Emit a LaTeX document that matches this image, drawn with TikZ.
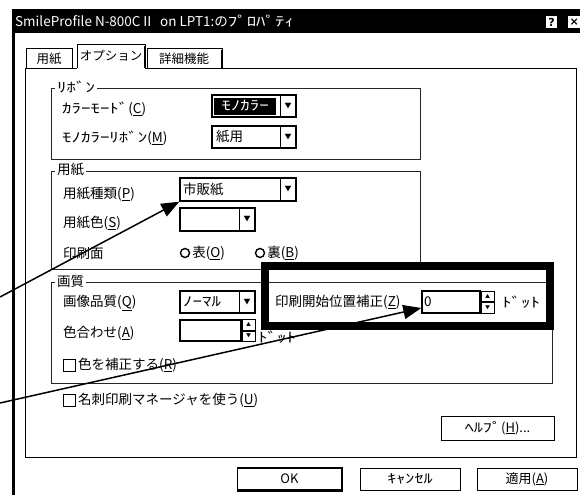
\documentclass[tikz,border=0pt]{standalone}
\usepackage{fontspec}
\newfontfamily\jp{Noto Sans CJK JP}
\newfontfamily\jphalf{Noto Sans CJK JP}[FakeStretch=1.4]
\newfontfamily\capfont{DejaVu Sans}
\newcommand{\hankaku}[1]{{\jphalf #1}}
\usetikzlibrary{arrows.meta,positioning,calc}

\tikzset{
  txt/.style={anchor=west, inner sep=0pt, font=\jp\fontsize{13.5}{13.5}\selectfont},
  tabtxt/.style={txt, anchor=center, font=\jp\fontsize{12.5}{12.5}\selectfont},
  grp/.style={draw=black!85, line width=0.9pt},
  grplbl/.style={txt, fill=white, inner xsep=2pt},
  field/.style={draw, line width=1.4pt, fill=white, inner sep=0pt, minimum width=#1},
  ddbtn/.style={draw, line width=1pt, inner sep=0pt, minimum width=16pt, anchor=east, font=\jp\fontsize{7}{7}\selectfont},
  spin/.style={draw, line width=1pt, inner sep=0pt, minimum width=13pt, minimum height=10.5pt, font=\jp\fontsize{5}{5}\selectfont},
  radio/.style={circle, draw, line width=1.4pt, minimum size=9pt, inner sep=0pt},
  chk/.style={draw, line width=1pt, minimum size=12pt, inner sep=0pt},
  btn/.style={draw, line width=1pt, minimum height=22pt, inner sep=0pt, font=\jp\fontsize{13}{13}\selectfont},
  capbtn/.style={fill=white, minimum width=11pt, minimum height=12pt, inner sep=0pt, font=\capfont\bfseries\fontsize{11}{11}\selectfont},
  hilite/.style={draw, line width=8pt, inner sep=0pt},
  callout/.style={line width=1.5pt, -{Triangle[length=18pt,width=14pt]}}
}

\begin{document}
\begin{tikzpicture}[x=1pt, y=-1pt]
    \useasboundingbox (0,0) rectangle (580,495);

    % Title bar
    \fill[black] (12,9) rectangle (580,33);
    \node[txt, text=white] (title) at (15,21) {SmileProfile N-800CⅡ\ \ on LPT1:の\hankaku{ﾌﾟﾛﾊﾟﾃｨ}};
    \node[capbtn] (qbtn) at (551.5,22) {?};
    \node[capbtn, minimum width=12pt, anchor=west] (xbtn) at (568,22) {×};
    \draw[line width=3pt] (13.5,33) -- (13.5,495);

    % Tabs and sheet
    \draw[line width=1pt] (26,68) -- (26,49) -- (72,49) -- (72,68);
    \draw[line width=1pt] (77,68) -- (77,45) -- (145,45) -- (145,68);
    \draw[line width=1pt] (147,68) -- (147,49) -- (222,49) -- (222,68);
    \draw[line width=1.8pt] (145,46) -- (145,68) (222,50) -- (222,68);
    \node[tabtxt] (tpaper) at (49,59) {用紙};
    \node[tabtxt] (topt) at (111,56) {オプション};
    \node[tabtxt] (tmore) at (184,59) {詳細機能};
    \draw[line width=1pt] (77,68) -- (25,68) -- (25,457) -- (576,457) -- (576,68) -- (145,68);

    % Group boxes
    \draw[grp] (51,88) rectangle (420,159);
    \draw[grp] (51,171) rectangle (420,269);
    \draw[grp] (51,282) rectangle (552,383);
    \node[grplbl] (gribbon) at (55,87) {\hankaku{ﾘﾎﾞﾝ}};
    \node[grplbl] (gpaper) at (55,170) {用紙};
    \node[grplbl] (gquality) at (55,281) {画質};

    % Ribbon
    \node[txt] (lcmode) at (62,109) {\hankaku{ｶﾗｰﾓｰﾄﾞ}(\underline{C})};
    \node[txt] (lribbon) at (62,138) {\hankaku{ﾓﾉｶﾗｰﾘﾎﾞﾝ}(\underline{M})};
    \node[field=84pt, minimum height=22pt] (cmode) at (254,106) {};
    \node[txt, fill=black, text=white, minimum height=17pt, minimum width=62pt, inner xsep=2pt] (cmodesel) at (214,106) {\hankaku{ﾓﾉｶﾗｰ}};
    \node[ddbtn, minimum height=22pt] (cmodedd) at (cmode.east) {▼};
    \node[field=84pt, minimum height=22pt] (rtype) at (254,137) {};
    \node[txt] (rtypetxt) at (216,137) {紙用};
    \node[ddbtn, minimum height=22pt] (rtypedd) at (rtype.east) {▼};

    % Paper
    \node[txt] (lptype) at (63,194) {用紙種類(\underline{P})};
    \node[txt] (lpcolor) at (63,223) {用紙色(\underline{S})};
    \node[txt] (lside) at (63,253) {印刷面};
    \node[field=116pt, minimum height=23pt] (ptype) at (238,189.5) {};
    \node[txt] (ptypetxt) at (183,189.5) {市販紙};
    \node[ddbtn, minimum height=23pt] (ptypedd) at (ptype.east) {▼};
    \node[field=75pt, minimum height=23pt] (pcolor) at (217.5,219.5) {};
    \node[ddbtn, minimum height=23pt] (pcolordd) at (pcolor.east) {▼};
    \node[radio] (rfront) at (185,253) {};
    \node[txt, right=2pt of rfront] (lfront) {表(\underline{O})};
    \node[radio] (rback) at (260,253) {};
    \node[txt, right=2pt of rback] (lback) {裏(\underline{B})};

    % Quality
    \node[txt] (lqual) at (63,303) {画像品質(\underline{Q})};
    \node[txt] (lmatch) at (63,333) {色合わせ(\underline{A})};
    \node[field=75pt, minimum height=22pt] (qual) at (217.5,302) {};
    \node[txt] (qualtxt) at (183,302) {\hankaku{ﾉｰﾏﾙ}};
    \node[ddbtn, minimum height=22pt] (qualdd) at (qual.east) {▼};
    \node[field=61pt, minimum height=21pt] (match) at (210.5,330.5) {};
    \node[spin, anchor=south west] (matchup) at (match.east) {▲};
    \node[spin, anchor=north west] (matchdn) at (match.east) {▼};
    \node[txt] (matchunit) at (258,337) {\hankaku{ﾄﾞｯﾄ}};
    \node[chk] (chkfix) at (69.5,365) {};
    \node[txt, right=2pt of chkfix] (lfix) {色を補正する(\underline{R})};

    % Print start offset
    \node[txt] (loffs) at (275,302) {印刷開始位置補正(\underline{Z})};
    \node[field=58pt, minimum height=22pt] (offs) at (451,302) {};
    \node[txt] (offstxt) at (424,302) {0};
    \node[spin, anchor=south west] (offsup) at (offs.east) {▲};
    \node[spin, anchor=north west] (offsdn) at (offs.east) {▼};
    \node[txt] (offsunit) at (502,302) {\hankaku{ﾄﾞｯﾄ}};
    \node[hilite, minimum width=285pt, minimum height=60pt] (focus) at (407.5,296) {};

    % Card manager, buttons
    \node[chk] (chkcard) at (69.5,400) {};
    \node[txt, right=2pt of chkcard] (lcard) {名刺印刷マネージャを使う(\underline{U})};
    \node[btn, minimum width=113pt, minimum height=24pt] (help) at (497.5,428) {\hankaku{ﾍﾙﾌﾟ}(\underline{H})...};
    \node[btn, minimum width=104pt, line width=1.6pt] (ok) at (289.5,479) {OK};
    \node[btn, minimum width=100pt] (cancel) at (410,479) {\hankaku{ｷｬﾝｾﾙ}};
    \node[btn, minimum width=100pt] (apply) at (527,479) {適用(\underline{A})};
    \foreach \b in {help,ok,cancel,apply} {
        \draw[line width=1.8pt] (\b.south west) -- (\b.south east) -- (\b.north east);
    }

    % Callouts
    \coordinate (fromA) at (0,297);
    \coordinate (fromB) at (0,403);
    \draw[callout] (fromA) -- (ptype.south west);
    \draw[callout] (fromB) -- ([yshift=-6pt]offs.west);
\end{tikzpicture}
\end{document}
